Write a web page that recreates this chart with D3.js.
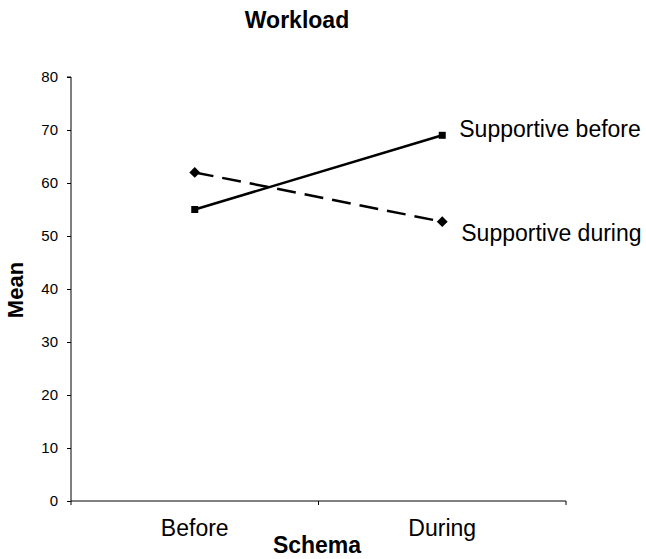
<!DOCTYPE html>
<html><head><meta charset="utf-8">
<script src="https://cdn.jsdelivr.net/npm/d3@7"></script>
<style>body{margin:0;background:#fff}svg{display:block}text{font-family:"Liberation Sans",Arial,sans-serif;fill:#000}</style>
</head><body><svg id="c" width="646" height="559"></svg>
<script>
const categories = ["Before", "During"];
const supportiveBefore = [55, 69];
const supportiveDuring = [62, 52.7];
const yTicks = [0, 10, 20, 30, 40, 50, 60, 70, 80];
const seriesNames = ["Supportive before", "Supportive during"];

const svg = d3.select("#c");
const x0 = 71, x1 = 566, yTop = 77, yBot = 501;
const x = d3.scaleBand().domain(categories).range([x0, x1]).paddingInner(0).paddingOuter(0);
const y = d3.scaleLinear().domain([0, 80]).range([yBot, yTop]);
const cx = c => x(c) + x.bandwidth() / 2;

// y axis
const ya = svg.append("g").attr("transform", `translate(${x0},0)`)
  .call(d3.axisLeft(y).tickValues(yTicks).tickSize(4).tickPadding(9).tickFormat(d3.format("d")));
ya.select(".domain").attr("stroke", "#000").attr("d", `M-4,${y(80)}H0V${y(0)}`);
ya.selectAll(".tick line").attr("stroke", "#000");
ya.selectAll("text").style("font-size", "15px").style("font-family", "Liberation Sans, Arial");

// x axis
const xa = svg.append("g").attr("transform", `translate(0,${yBot})`);
xa.append("line").attr("x1", x0).attr("x2", x1).attr("y1", 0).attr("y2", 0).attr("stroke", "#000");
const bounds = [x0].concat(categories.map(c => x(c) + x.bandwidth()));
xa.selectAll("line.tk").data(bounds).join("line").attr("class", "tk")
  .attr("x1", d => d).attr("x2", d => d).attr("y1", 0).attr("y2", 4).attr("stroke", "#000");
xa.selectAll("text.cat").data(categories).join("text").attr("class", "cat")
  .attr("x", d => cx(d)).attr("y", 35).attr("text-anchor", "middle")
  .style("font-size", "23px").text(d => d);

// lines
const line = d3.line().x((d, i) => cx(categories[i])).y(d => y(d));
svg.append("path").datum(supportiveBefore).attr("d", line)
  .attr("fill", "none").attr("stroke", "#000").attr("stroke-width", 2.5);
svg.append("path").datum(supportiveDuring).attr("d", line)
  .attr("fill", "none").attr("stroke", "#000").attr("stroke-width", 2.5).attr("stroke-dasharray", "19,9");

svg.selectAll("rect.sq").data(supportiveBefore).join("rect").attr("class", "sq")
  .attr("x", (d, i) => cx(categories[i]) - 3.5).attr("y", d => y(d) - 3.5)
  .attr("width", 7).attr("height", 7).attr("fill", "#000");
svg.selectAll("path.dm").data(supportiveDuring).join("path").attr("class", "dm")
  .attr("d", d3.symbol().type(d3.symbolDiamond2).size(75))
  .attr("transform", (d, i) => `translate(${cx(categories[i])},${y(d)})`).attr("fill", "#000");

// series labels
const lastI = categories.length - 1;
svg.append("text").attr("x", cx(categories[lastI]) + 17).attr("y", y(supportiveBefore[lastI]) + 2)
  .style("font-size", "23px").text(seriesNames[0]);
svg.append("text").attr("x", cx(categories[lastI]) + 19).attr("y", y(supportiveDuring[lastI]) + 19)
  .style("font-size", "23px").text(seriesNames[1]);

// titles
svg.append("text").attr("x", 297).attr("y", 28).attr("text-anchor", "middle")
  .style("font-size", "23px").style("font-weight", "bold").text("Workload");
svg.append("text").attr("x", 317).attr("y", 553).attr("text-anchor", "middle")
  .style("font-size", "23px").style("font-weight", "bold").text("Schema");
svg.append("text").attr("transform", "translate(23,290) rotate(-90)").attr("text-anchor", "middle")
  .style("font-size", "22px").style("font-weight", "bold").text("Mean");
</script></body></html>
